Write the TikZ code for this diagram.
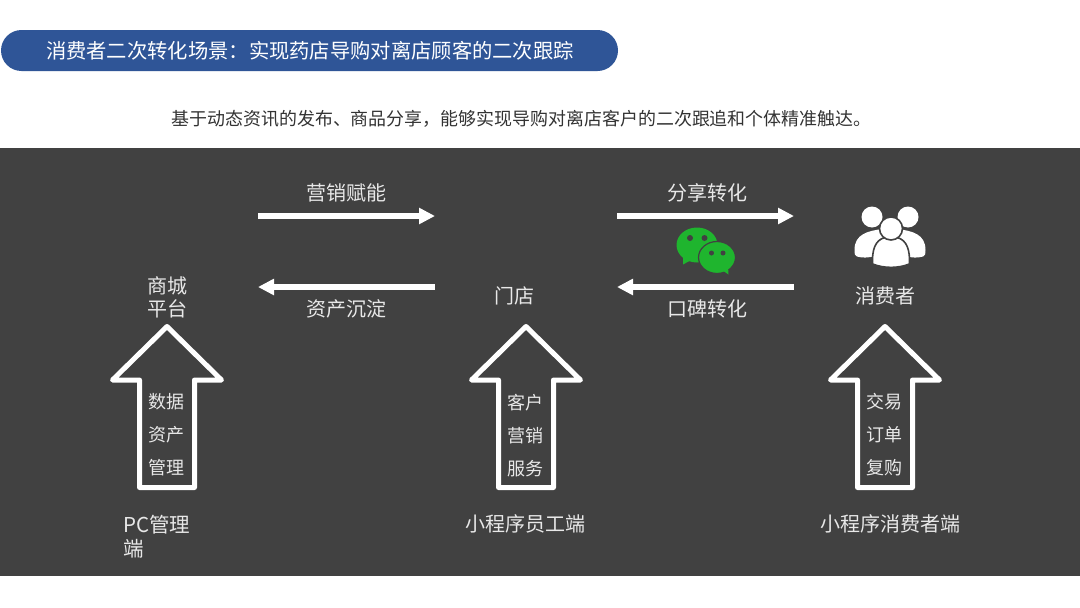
\documentclass[tikz,border=0pt]{standalone}
\usepackage{fontspec}
\setmainfont{Noto Sans CJK SC}
\usetikzlibrary{arrows.meta,shapes.misc}
\definecolor{panel}{HTML}{414141}
\definecolor{titleblue}{HTML}{2F5597}
\definecolor{lbl}{HTML}{E8E8E8}
\definecolor{wxgreen}{HTML}{1FB52E}
\tikzset{
  big/.style={font=\fontsize{20}{23}\selectfont,text=lbl,inner sep=0pt,align=center},
  small/.style={font=\fontsize{18}{33}\selectfont,text=lbl,inner sep=0pt,align=center},
  flow/.style={draw=white,line width=5.5pt,-{Triangle[length=16pt,width=15.5pt]}},
  upoutline/.style={draw=white,line width=5pt,line join=round,line cap=round},
  person/.style={fill=white,draw=panel,line width=1.6pt},
}
\begin{document}
\begin{tikzpicture}[x=1pt,y=-1pt]
\useasboundingbox (0,0) rectangle (1080,608);
\fill[white] (0,0) rectangle (1080,608);
\fill[panel] (0,148) rectangle (1080,576);
\node[rounded rectangle,fill=titleblue,minimum width=617pt,minimum height=41pt,inner sep=0pt,anchor=center] (title) at (309.5,50.5) {};
\node[font=\fontsize{20.3}{24}\selectfont,text=white,inner sep=0pt] (titletext) at (310,50.5) {消费者二次转化场景：实现药店导购对离店顾客的二次跟踪};
\node[font=\fontsize{17.95}{22}\selectfont,text=black!80,inner sep=0pt] (sub) at (521.5,118.5) {基于动态资讯的发布、商品分享，能够实现导购对离店客户的二次跟追和个体精准触达。};

% flow arrows
\coordinate (a1s) at (258,216); \coordinate (a1e) at (435,216);
\coordinate (a2s) at (435,287); \coordinate (a2e) at (258,287);
\coordinate (a3s) at (617,216); \coordinate (a3e) at (794,216);
\coordinate (a4s) at (794,287); \coordinate (a4e) at (617,287);
\draw[flow] (a1s) -- (a1e);
\draw[flow] (a2s) -- (a2e);
\draw[flow] (a3s) -- (a3e);
\draw[flow] (a4s) -- (a4e);

\node[big] (l1) at (346,192.7) {营销赋能};
\node[big] (l2) at (346,308.5) {资产沉淀};
\node[big] (l3) at (707,192.7) {分享转化};
\node[big] (l4) at (707,308.5) {口碑转化};

\node[big] (shop) at (167.5,297.7) {商城\\平台};
\node[big] (store) at (514,296.3) {门店};
\node[big] (cons) at (885,296.3) {消费者};

% hollow up arrows
\foreach \cx in {167,526,885}{
  \draw[upoutline] (\cx,326.5) -- (\cx+54.5,380) -- (\cx+27.5,380) -- (\cx+27.5,487.5)
    -- (\cx-27.5,487.5) -- (\cx-27.5,380) -- (\cx-54.5,380) -- cycle;
}
\node[small] (t1) at (166,435) {数据\\资产\\管理};
\node[small] (t2) at (525,435.5) {客户\\营销\\服务};
\node[small] (t3) at (884,435) {交易\\订单\\复购};

\node[big,anchor=north west,align=left,font=\fontsize{20.5}{24}\selectfont] (b1) at (123,514.5) {PC管理\\端};
\node[big] (b2) at (525,524.3) {小程序员工端};
\node[big] (b3) at (890,524.3) {小程序消费者端};

% people icon
\foreach \m in {-1,1}{
  \begin{scope}[shift={(890,0)},xscale=\m]
    \fill[white] (-8,229) .. controls (-22,231) and (-35.5,234) .. (-35.5,250)
      .. controls (-35.5,254) and (-35,256) .. (-33,256.5)
      .. controls (-28,258) and (-22,258) .. (-15,256) -- (-6,236) -- cycle;
    \fill[white] (-18,217) circle[radius=10.5pt];
  \end{scope}
}
\fill[person] (872.5,264) .. controls (872,250) and (875,240) .. (885,237.5)
  -- (897,237.5) .. controls (907,240) and (910,250) .. (909.5,264)
  .. controls (898,268.5) and (884,268.5) .. (872.5,264) -- cycle;
\fill[person] (891,228.5) circle[radius=11.5pt];

% WeChat icon
\fill[wxgreen] (697,245) ellipse[x radius=20.5pt,y radius=17.5pt];
\fill[wxgreen] (683,256) -- (683,264.5) -- (695,258) -- cycle;
\fill[panel] (690,238) circle[radius=3pt] (704.5,238) circle[radius=3pt];
\fill[wxgreen,draw=panel,line width=1.2pt] (717,257.5) ellipse[x radius=18.5pt,y radius=16pt];
\fill[wxgreen] (722,270) -- (728.5,274.5) -- (728,266) -- cycle;
\fill[panel] (711.5,253) circle[radius=2.5pt] (723,253) circle[radius=2.5pt];
\end{tikzpicture}
\end{document}
